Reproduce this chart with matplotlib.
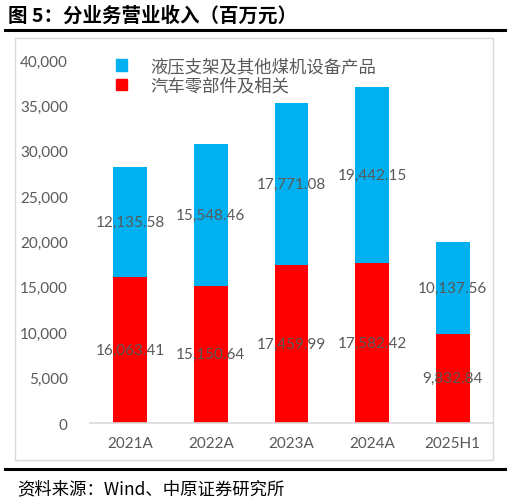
import matplotlib
matplotlib.use("Agg")
import matplotlib.pyplot as plt
from matplotlib.patches import Rectangle
from matplotlib.lines import Line2D
import matplotlib.ticker as mticker

categories = ["2021A", "2022A", "2023A", "2024A", "2025H1"]
auto_parts = [16063.41, 15150.64, 17459.99, 17582.42, 9832.84]
hydraulic = [12135.58, 15548.46, 17771.08, 19442.15, 10137.56]
series_names = ["液压支架及其他煤机设备产品", "汽车零部件及相关"]
yticks = [0, 5000, 10000, 15000, 20000, 25000, 30000, 35000, 40000]

plt.rcParams['font.family'] = ['Lato', 'Noto Sans CJK SC', 'DejaVu Sans']

W, H = 510, 502
fig = plt.figure(figsize=(W/100, H/100), dpi=100)

def fx(px):
    return px / W
def fy(py):
    return 1 - py / H

ax = fig.add_axes([fx(90), fy(424), fx(493) - fx(90), fy(61) - fy(424)])
x = list(range(len(categories)))
blue = "#00B0F0"
red = "#FF0000"
bw = 0.42
ax.bar(x, auto_parts, width=bw, color=red, label=series_names[1], zorder=2)
ax.bar(x, hydraulic, width=bw, bottom=auto_parts, color=blue, label=series_names[0], zorder=2)

lab_color = "#595959"
for i in x:
    ax.text(i, auto_parts[i] / 2, f"{auto_parts[i]:,.2f}", ha="center", va="center",
            fontsize=11, color=lab_color, zorder=3)
    ax.text(i, auto_parts[i] + hydraulic[i] / 2, f"{hydraulic[i]:,.2f}", ha="center", va="center",
            fontsize=11, color=lab_color, zorder=3)

ax.set_xlim(-0.5, 4.5)
ax.set_ylim(0, 40000)
ax.set_yticks(yticks)
ax.yaxis.set_major_formatter(mticker.FuncFormatter(lambda v, p: f"{int(v):,}"))
ax.set_xticks(x)
ax.set_xticklabels(categories)
for s in ["top", "right", "left"]:
    ax.spines[s].set_visible(False)
ax.spines["bottom"].set_color("#D9D9D9")
ax.spines["bottom"].set_linewidth(1.2)
ax.tick_params(axis="both", length=0, labelsize=11, labelcolor=lab_color)
ax.tick_params(axis="y", pad=16)
ax.tick_params(axis="x", pad=9)
ax.patch.set_alpha(0)

handles = [Rectangle((0, 0), 1, 1, color=blue), Rectangle((0, 0), 1, 1, color=red)]
leg = ax.legend(handles, series_names, loc="upper left", bbox_to_anchor=(0.025, 1.05),
                frameon=False, fontsize=12.5, handlelength=0.65, handleheight=0.65,
                handletextpad=1.35, labelspacing=0.15, labelcolor=lab_color)

# chart frame
fig.patches.append(Rectangle((fx(15), fy(461)), fx(493) - fx(15), fy(39) - fy(461),
                             transform=fig.transFigure, fill=False, edgecolor="#D9D9D9",
                             linewidth=1, zorder=0))
# title and rules
fig.text(fx(8), fy(16), "图 5：分业务营业收入（百万元）", fontsize=14, fontweight="bold",
         family=['Noto Sans CJK SC', 'DejaVu Sans'], va="center", ha="left", color="black")
fig.add_artist(Line2D([fx(5), fx(505)], [fy(31), fy(31)], transform=fig.transFigure,
                      color="black", linewidth=2.2))
fig.add_artist(Line2D([fx(5), fx(505)], [fy(470), fy(470)], transform=fig.transFigure,
                      color="black", linewidth=2.2))
fig.text(fx(17), fy(489), "资料来源：Wind、中原证券研究所", fontsize=12.5,
         family=['Noto Sans CJK SC', 'DejaVu Sans'], va="center", ha="left", color="black")

fig.savefig("out.png", dpi=100)
